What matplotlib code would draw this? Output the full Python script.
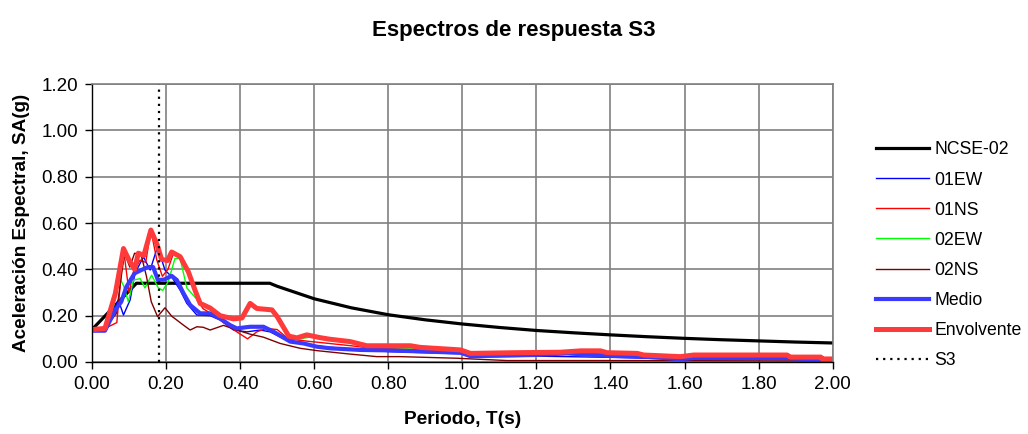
import numpy as np
import matplotlib
matplotlib.use("Agg")
import matplotlib.pyplot as plt

plt.rcParams['font.family'] = ['Liberation Sans', 'DejaVu Sans']

# espectro de norma NCSE-02 (suelo S3)
T_ncse = [0.0, 0.12, 0.48, 0.5, 0.6, 0.7, 0.8, 0.9, 1.0, 1.1, 1.2, 1.3, 1.4,
          1.5, 1.6, 1.7, 1.8, 1.9, 2.0]
sa_ncse = [0.14, 0.34, 0.34, 0.327, 0.273, 0.234, 0.204, 0.182, 0.164, 0.149,
           0.136, 0.126, 0.117, 0.109, 0.102, 0.096, 0.091, 0.086, 0.082]

# registros
T_01ew = [0.0, 0.035, 0.053, 0.071, 0.085, 0.103, 0.116, 0.139, 0.157, 0.177,
          0.197, 0.215, 0.238, 0.256, 0.283, 0.319, 0.346, 0.382, 0.418, 0.454,
          0.481, 0.517, 0.55, 0.6, 0.7, 0.8, 1.0, 1.02, 1.2, 1.4, 1.6, 1.8, 2.0]
sa_01ew = [0.135, 0.145, 0.21, 0.268, 0.203, 0.268, 0.383, 0.454, 0.397, 0.498,
           0.397, 0.368, 0.31, 0.253, 0.203, 0.2, 0.181, 0.138, 0.13, 0.138,
           0.13, 0.1, 0.085, 0.07, 0.055, 0.045, 0.035, 0.022, 0.025, 0.02,
           0.012, 0.012, 0.008]

T_01ns = [0.0, 0.035, 0.067, 0.085, 0.10, 0.112, 0.13, 0.145, 0.159, 0.175,
          0.19, 0.205, 0.22, 0.238, 0.26, 0.283, 0.30, 0.33, 0.36, 0.391, 0.42,
          0.445, 0.47, 0.5, 0.53, 0.58, 0.64, 0.7, 0.75, 0.86, 1.0, 1.02, 1.14,
          1.32, 1.39, 1.49, 1.6, 1.88, 1.97, 2.0]
sa_01ns = [0.14, 0.145, 0.17, 0.49, 0.30, 0.39, 0.44, 0.43, 0.57, 0.44, 0.37,
           0.40, 0.47, 0.455, 0.39, 0.27, 0.23, 0.2, 0.165, 0.13, 0.10, 0.13,
           0.145, 0.14, 0.1, 0.09, 0.08, 0.07, 0.06, 0.055, 0.045, 0.03, 0.035,
           0.04, 0.03, 0.025, 0.02, 0.02, 0.012, 0.012]

T_02ew = [0.0, 0.035, 0.06, 0.071, 0.085, 0.098, 0.112, 0.13, 0.143, 0.161,
          0.179, 0.191, 0.206, 0.224, 0.238, 0.256, 0.278, 0.292, 0.319, 0.346,
          0.382, 0.405, 0.427, 0.45, 0.486, 0.50, 0.531, 0.56, 0.6, 0.64, 0.7,
          0.74, 0.86, 1.0, 1.02, 1.2, 1.4, 1.6, 1.8, 2.0]
sa_02ew = [0.138, 0.142, 0.25, 0.375, 0.33, 0.26, 0.354, 0.36, 0.32, 0.375,
           0.32, 0.309, 0.348, 0.447, 0.447, 0.32, 0.28, 0.253, 0.233, 0.2,
           0.186, 0.19, 0.253, 0.231, 0.225, 0.196, 0.112, 0.10, 0.11, 0.095,
           0.085, 0.065, 0.06, 0.045, 0.03, 0.035, 0.035, 0.02, 0.02, 0.01]

T_02ns = [0.0, 0.035, 0.066, 0.079, 0.088, 0.102, 0.115, 0.133, 0.147, 0.16,
          0.177, 0.197, 0.215, 0.229, 0.247, 0.265, 0.283, 0.30, 0.319, 0.355,
          0.391, 0.427, 0.463, 0.508, 0.562, 0.607, 0.697, 0.769, 0.832, 0.986,
          1.121, 1.508, 2.0]
sa_02ns = [0.135, 0.145, 0.21, 0.37, 0.47, 0.41, 0.47, 0.46, 0.37, 0.26, 0.196,
           0.234, 0.198, 0.181, 0.159, 0.138, 0.152, 0.15, 0.138, 0.158, 0.138,
           0.12, 0.107, 0.08, 0.059, 0.049, 0.034, 0.023, 0.023, 0.016, 0.006,
           0.006, 0.004]

# medio y envolvente
T_med = [0.0, 0.035, 0.063, 0.079, 0.093, 0.115, 0.133, 0.151, 0.165, 0.178,
         0.195, 0.215, 0.229, 0.247, 0.265, 0.292, 0.319, 0.346, 0.373, 0.391,
         0.427, 0.463, 0.49, 0.535, 0.571, 0.607, 0.643, 0.724, 0.80, 0.995,
         1.022, 1.193, 1.283, 1.391, 1.49, 1.589, 1.625, 1.877, 1.968, 2.0]
sa_med = [0.135, 0.135, 0.225, 0.26, 0.325, 0.383, 0.397, 0.41, 0.41, 0.354,
          0.356, 0.372, 0.354, 0.297, 0.246, 0.21, 0.21, 0.188, 0.159, 0.145,
          0.152, 0.152, 0.131, 0.088, 0.08, 0.066, 0.059, 0.052, 0.05, 0.04,
          0.025, 0.03, 0.037, 0.027, 0.023, 0.012, 0.017, 0.017, 0.01, 0.01]

T_env = [0.0, 0.035, 0.063, 0.085, 0.10, 0.115, 0.125, 0.14, 0.159, 0.175,
         0.188, 0.204, 0.215, 0.238, 0.26, 0.278, 0.292, 0.319, 0.346, 0.382,
         0.405, 0.427, 0.445, 0.486, 0.50, 0.531, 0.553, 0.58, 0.616, 0.643,
         0.697, 0.742, 0.86, 0.886, 0.995, 1.022, 1.14, 1.265, 1.32, 1.373,
         1.391, 1.472, 1.49, 1.589, 1.625, 1.877, 1.886, 1.968, 1.972, 2.0]
sa_env = [0.14, 0.145, 0.296, 0.49, 0.44, 0.40, 0.47, 0.46, 0.57, 0.51, 0.443,
          0.438, 0.475, 0.455, 0.39, 0.311, 0.253, 0.233, 0.2, 0.186, 0.19,
          0.253, 0.231, 0.225, 0.196, 0.112, 0.104, 0.117, 0.105, 0.098, 0.088,
          0.07, 0.07, 0.063, 0.052, 0.037, 0.04, 0.042, 0.048, 0.048, 0.04,
          0.037, 0.03, 0.023, 0.03, 0.03, 0.021, 0.021, 0.013, 0.013]

# periodo S3
T_s3 = [0.18, 0.18]
sa_s3 = [0.0, 1.2]

fig = plt.figure(figsize=(10.28, 4.34), dpi=100)
ax = fig.add_axes([0.0895, 0.166, 0.7205, 0.640])

ax.plot(T_ncse, sa_ncse, color='black', lw=2.3, label='NCSE-02')
ax.plot(T_01ew, sa_01ew, color='#0000ff', lw=1.0, label='01EW')
ax.plot(T_01ns, sa_01ns, color='#ff0000', lw=1.0, label='01NS')
ax.plot(T_02ew, sa_02ew, color='#00ff00', lw=1.0, label='02EW')
ax.plot(T_02ns, sa_02ns, color='#800000', lw=1.0, label='02NS')
ax.plot(T_med, sa_med, color='#3a3aff', lw=3.0, label='Medio')
ax.plot(T_env, sa_env, color='#ff3a3a', lw=3.6, label='Envolvente')
ax.plot(T_s3, sa_s3, color='black', lw=1.6, ls=(0, (1, 2.2)), label='S3')

ax.set_xlim(0, 2.0)
ax.set_ylim(0, 1.2)
ax.set_xticks(np.arange(0, 2.01, 0.2))
ax.set_yticks(np.arange(0, 1.21, 0.2))
ax.xaxis.set_major_formatter(matplotlib.ticker.FormatStrFormatter('%.2f'))
ax.yaxis.set_major_formatter(matplotlib.ticker.FormatStrFormatter('%.2f'))
ax.tick_params(labelsize=13.5, direction='out', length=5, width=1, pad=5)
ax.grid(True, color='#808080', lw=1.2)
ax.set_axisbelow(True)
for s in ['top', 'right']:
    ax.spines[s].set_color('#808080')
    ax.spines[s].set_linewidth(1.2)
for s in ['left', 'bottom']:
    ax.spines[s].set_color('black')
    ax.spines[s].set_linewidth(1.0)

ax.set_xlabel('Periodo, T(s)', fontsize=13.8, fontweight='bold', labelpad=13)
ax.set_ylabel('Aceleración Espectral, SA(g)', fontsize=13.6, fontweight='bold',
              labelpad=8)
fig.suptitle('Espectros de respuesta S3', fontsize=16, fontweight='bold',
             y=0.929, va='center')

fig.legend(loc='upper left', bbox_to_anchor=(0.852, 0.674), frameon=False,
           fontsize=12.7, handlelength=3.0, handletextpad=0.3,
           labelspacing=0.74, borderpad=0, borderaxespad=0)

fig.savefig('out.png', dpi=100)
